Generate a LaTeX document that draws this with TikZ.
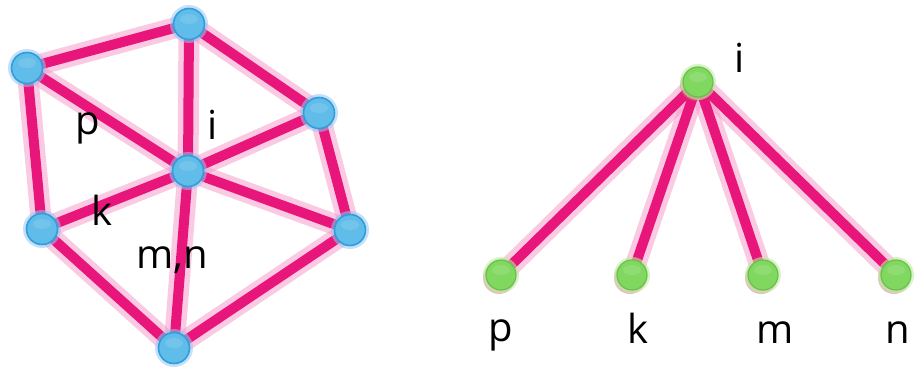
\documentclass[tikz,border=0pt]{standalone}
\usepackage{fontspec}
\setmainfont{Open Sans}
\begin{document}
\definecolor{edgepink}{RGB}{232,22,122}
\definecolor{glowpink}{RGB}{246,150,200}
\definecolor{ballblue}{RGB}{96,188,232}
\definecolor{rimblue}{RGB}{48,158,218}
\definecolor{haloblue}{RGB}{150,200,245}
\definecolor{ballgreen}{RGB}{128,216,96}
\definecolor{rimgreen}{RGB}{104,192,72}
\definecolor{halogreen}{RGB}{190,235,160}
\definecolor{shadebrown}{RGB}{190,120,110}
\begin{tikzpicture}[x=1pt,y=-1pt,
  link/.style={line width=10pt,draw=edgepink,line cap=round},
  linkglow/.style={line width=21pt,draw=glowpink,opacity=0.5,line cap=round},
  bluenode/.style={circle,minimum size=31pt,inner sep=0pt,fill=ballblue,draw=rimblue,line width=1.6pt},
  greennode/.style={circle,minimum size=30pt,inner sep=0pt,fill=ballgreen,draw=rimgreen,line width=1.2pt},
  bluehalo/.style={fill=haloblue,opacity=0.55},
  greenhalo/.style={fill=halogreen,opacity=0.6},
  lbl/.style={anchor=base,inner sep=0pt,font=\fontsize{40}{48}\selectfont}]
\useasboundingbox (0,0) rectangle (917,374);
\fill[white] (0,0) rectangle (917,374);

% vertex positions of the mesh
\coordinate (A) at (27,68);
\coordinate (B) at (189,24);
\coordinate (C) at (319,113);
\coordinate (D) at (188,171);
\coordinate (E) at (42,229);
\coordinate (F) at (350,230);
\coordinate (G) at (174,348);

% tree positions
\coordinate (R) at (698,82);
\coordinate (L1) at (501,275);
\coordinate (L2) at (632,275);
\coordinate (L3) at (763,275);
\coordinate (L4) at (896,275);

% soft glow under the edges
\foreach \u/\v in {A/B,B/C,A/E,A/D,B/D,C/D,C/F,D/E,D/F,D/G,E/G,F/G,R/L1,R/L2,R/L3,R/L4}
  \draw[linkglow] (\u) -- (\v);
\foreach \u/\v in {A/B,B/C,A/E,A/D,B/D,C/D,C/F,D/E,D/F,D/G,E/G,F/G,R/L1,R/L2,R/L3,R/L4}
  \draw[link] (\u) -- (\v);

% blue mesh vertices
\foreach \p in {A,B,C,D,E,F,G}{
  \fill[bluehalo] (\p) circle (19pt);
  \node[bluenode] (n\p) at (\p) {};
  \fill[white,opacity=0.12] ([yshift=5pt]\p) ellipse (9pt and 5pt);
}

% green tree vertices
\foreach \p in {R,L1,L2,L3,L4}{
  \fill[shadebrown,opacity=0.45] ([xshift=-2pt,yshift=-3pt]\p) circle (16pt);
  \fill[greenhalo] (\p) circle (18pt);
  \node[greennode] (n\p) at (\p) {};
  \fill[white,opacity=0.12] ([yshift=5pt]\p) ellipse (9pt and 5pt);
}

% labels in the mesh
\node[lbl] (tp) at (88,135) {p};
\node[lbl] (ti) at (213,140) {i};
\node[lbl] (tk) at (102,225) {k};
\node[lbl] (tmn) at (172,268) {m,n};

% labels in the tree
\node[lbl] (ri) at (740,73) {i};
\node[lbl] (rp) at (501,341) {p};
\node[lbl] (rk) at (638,343) {k};
\node[lbl] (rm) at (775,343) {m};
\node[lbl] (rn) at (898,343) {n};
\end{tikzpicture}
\end{document}
